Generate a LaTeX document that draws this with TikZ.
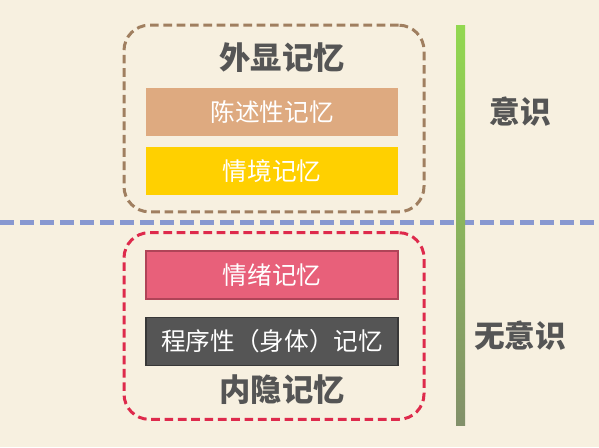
\documentclass[tikz,border=0pt]{standalone}
\usepackage{fontspec}
\setmainfont{Noto Sans CJK SC}
\usetikzlibrary{positioning}
\definecolor{bgcream}{HTML}{F7F0E0}
\definecolor{textgray}{HTML}{555555}
\definecolor{brownline}{HTML}{A07F60}
\definecolor{redline}{HTML}{DE2A4C}
\definecolor{blueline}{HTML}{8898D0}
\definecolor{tanfill}{HTML}{DEAA80}
\definecolor{yellowfill}{HTML}{FFD000}
\definecolor{pinkfill}{HTML}{E8607A}
\definecolor{pinkedge}{HTML}{B04458}
\definecolor{darkfill}{HTML}{555555}
\definecolor{darkedge}{HTML}{383838}
\definecolor{bartop}{HTML}{92D850}
\definecolor{barbottom}{HTML}{82906A}
\begin{document}
\begin{tikzpicture}[x=0.75pt,y=-0.75pt,
	group/.style={rectangle,rounded corners=19pt,line width=2.25pt,dash pattern=on 6.5pt off 3.5pt,minimum width=225pt,minimum height=140pt},
	title/.style={font=\bfseries\fontsize{23.5}{27}\selectfont,text=textgray},
	memory/.style={rectangle,minimum width=189pt,minimum height=36pt,text=white,font=\fontsize{18.5}{22}\selectfont},
	level/.style={font=\bfseries\fontsize{23}{27}\selectfont,text=textgray}]
	\useasboundingbox (0,0) rectangle (599,447);
	\fill[bgcream] (0,0) rectangle (599,447);

	\node (upper)[group,draw=brownline] at (274,118.5){};
	\node (lower)[group,draw=redline] at (274,326){};

	\node (explicit)[title] at (282,58){外显记忆};
	\node (declarative)[memory,fill=tanfill] at (272,112){陈述性记忆};
	\node (episodic)[memory,fill=yellowfill,below=8pt of declarative]{情境记忆};

	\node (emotional)[memory,fill=pinkfill,draw=pinkedge,line width=0.8pt] at (272,275){情绪记忆};
	\node (procedural)[memory,fill=darkfill,draw=darkedge,line width=0.8pt,below=13pt of emotional]{程序性（身体）记忆};
	\node (implicit)[title] at (282,390){内隐记忆};

	\coordinate (divleft) at (0,222);
	\coordinate (divright) at (599,222);
	\draw[blueline,line width=3.75pt,dash pattern=on 10.5pt off 4.5pt] (divleft) -- (divright);

	\shade[top color=bartop,bottom color=barbottom] (456,25) rectangle (465,425);

	\node (conscious)[level] at (520,112){意识};
	\node (unconscious)[level] at (520,336){无意识};
\end{tikzpicture}
\end{document}
